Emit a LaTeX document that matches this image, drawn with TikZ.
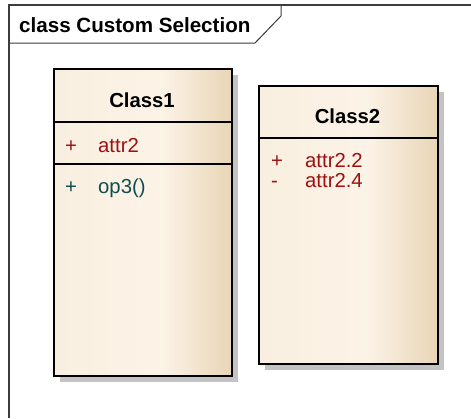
\documentclass[tikz,border=0pt]{standalone}
\usepackage{fontspec}
\setmainfont{Liberation Sans}
\usetikzlibrary{positioning, shadows}
\definecolor{framegray}{HTML}{3C3C3C}
\definecolor{shadowgray}{HTML}{C3C3C3}
\definecolor{attrred}{HTML}{9E1010}
\definecolor{opteal}{HTML}{0E4E4E}
\definecolor{creamleft}{HTML}{F9EFE0}
\definecolor{creammid}{HTML}{FCF3E7}
\definecolor{creamright}{HTML}{E8D5B6}
\pgfdeclarehorizontalshading{classfill}{100bp}{color(0bp)=(creamleft); color(25bp)=(creamleft); color(55bp)=(creammid); color(75bp)=(creamright); color(100bp)=(creamright)}

\begin{document}
\begin{tikzpicture}[x=1pt,y=-1pt,
    classbox/.style={draw=black, line width=2pt, shading=classfill, anchor=north west,
        drop shadow={shadow xshift=6pt, shadow yshift=-6pt, opacity=1, fill=shadowgray}},
    classname/.style={font=\fontsize{20.3}{24}\selectfont\bfseries, anchor=base},
    attrtext/.style={font=\fontsize{20.3}{24}\selectfont, text=attrred, anchor=base west, inner sep=0pt},
    optext/.style={font=\fontsize{20.3}{24}\selectfont, text=opteal, anchor=base west, inner sep=0pt}]
    \useasboundingbox (0,0) rectangle (471,418);
    % frame
    \draw[framegray, line width=1.5pt] (9,418) -- (9,5) -- (471,5);
    \draw[framegray, line width=1pt] (9,43) -- (255,43) -- (281,16) -- (281,5);
    \node[font=\fontsize{20.6}{24}\selectfont\bfseries, anchor=base west, inner sep=0pt] (title) at (19,32) {class Custom Selection};

    % Class1
    \node[classbox, minimum width=178pt, minimum height=307pt] (class1) at (53,68) {};
    \node[classname] (class1name) at (142,107) {Class1};
    \draw[line width=1.5pt] (class1.west |- 0,122) -- (class1.east |- 0,122);
    \draw[line width=1.5pt] (class1.west |- 0,164) -- (class1.east |- 0,164);
    \node[attrtext] (c1vis1) at (65,152) {+};
    \node[attrtext] (c1attr1) at (98,152) {attr2};
    \node[optext] (c1vis2) at (65,193) {+};
    \node[optext] (c1op1) at (98,193) {op3()};

    % Class2
    \node[classbox, minimum width=179pt, minimum height=278pt] (class2) at (258,85) {};
    \node[classname] (class2name) at (347.5,123) {Class2};
    \draw[line width=1.5pt] (class2.west |- 0,138) -- (class2.east |- 0,138);
    \node[attrtext] (c2vis1) at (271,167) {+};
    \node[attrtext] (c2attr1) at (305,167) {attr2.2};
    \node[attrtext] (c2vis2) at (271,187) {-};
    \node[attrtext] (c2attr2) at (305,187) {attr2.4};
\end{tikzpicture}
\end{document}
